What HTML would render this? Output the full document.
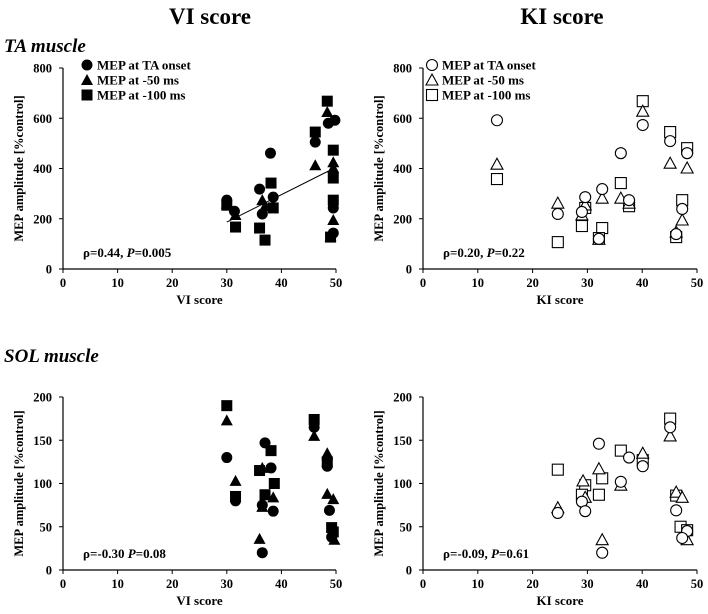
<!DOCTYPE html>
<html><head><meta charset="utf-8"><style>
body{margin:0;background:#fff;width:708px;height:609px;overflow:hidden}
svg text{font-family:"Liberation Serif",serif;font-weight:bold;fill:#000}
</style></head><body>
<svg id="c" width="708" height="609" viewBox="0 0 708 609" xmlns="http://www.w3.org/2000/svg">
<text x="210" y="24" font-size="23" text-anchor="middle">VI score</text>
<text x="562" y="24" font-size="23" text-anchor="middle">KI score</text>
<text x="4" y="52" font-size="19" font-style="italic">TA muscle</text>
<text x="4" y="362" font-size="19" font-style="italic">SOL muscle</text>
</svg>
<script>
// ----- data -----
const taViCircle=[[30,274],[31.4,230],[36,318],[36.5,219],[38,461],[38.5,286],[46.2,505],[48.6,580],[49.8,592],[49.5,243],[49.5,143]];
const taViTri=[[30,260],[31.6,215],[36.5,274],[37,250],[46.2,413],[48.4,625],[49.5,425],[49.5,402],[49.5,195],[49,130]];
const taViSq=[[30,254],[31.6,167],[36,163],[37,115],[38.1,342],[38.5,243],[46.2,545],[48.4,668],[49.5,473],[49.5,362],[49.5,274],[49,127]];
const taKiCircle=[[13.5,592],[24.6,219],[29.6,286],[29,227],[32.7,318],[32.1,120],[36.1,461],[37.6,274],[40.1,573],[45.1,509],[46.2,139],[48.2,461],[47.3,239]];
const taKiTri=[[13.5,417],[24.6,262],[29.6,255],[29,215],[32.7,282],[32.1,118],[36.1,282],[37.6,262],[40.1,628],[45.1,421],[46.2,147],[48.2,402],[47.3,195]];
const taKiSq=[[13.5,358],[24.6,107],[29.6,243],[29,171],[32.7,163],[32.1,123],[36.1,342],[37.6,250],[40.1,668],[45.1,545],[46.2,127],[48.2,481],[47.3,274]];
const solViCircle=[[30,130],[31.6,80],[37,147],[38.1,118],[36.5,75],[38.5,68],[36.5,20],[46,165],[48.4,128],[48.4,120],[48.8,69],[49.2,38]];
const solViTri=[[30,173],[31.6,103],[36.5,118],[38.5,84],[36.5,73],[36,36],[46,155],[48.4,135],[48.4,88],[49.5,82],[49.7,35]];
const solViSq=[[30,190],[31.6,85],[38.1,138],[36,115],[38.7,100],[37,87],[46,174],[48.4,125],[49.2,49],[49.5,44]];
const solKiCircle=[[45.1,165],[32.1,146],[37.6,130],[40.1,120],[36.1,102],[29,79],[29.6,68],[24.6,66],[46.2,69],[48.2,45],[47.3,37],[32.7,20]];
const solKiTri=[[45.1,155],[40.1,135],[32.1,117],[29.2,103],[36.1,98],[29.6,84],[24.6,72],[46.2,90],[47.3,84],[48.2,35],[32.7,35]];
const solKiSq=[[36.1,138],[40.1,127],[24.6,116],[32.7,106],[29.6,98],[32.1,87],[29,87],[46.2,86],[47,50],[48.2,46],[45.1,175]];
const xTicks=[0,10,20,30,40,50];
const taYTicks=[0,200,400,600,800];
const solYTicks=[0,50,100,150,200];
const taFit=[[30,187],[49,394]];
const legendLabels=["MEP at TA onset","MEP at -50 ms","MEP at -100 ms"];

const svg=document.getElementById('c');
const NS="http://www.w3.org/2000/svg";
function mk(tag,attrs,parent){const e=document.createElementNS(NS,tag);for(const k in attrs)e.setAttribute(k,attrs[k]);(parent||svg).appendChild(e);return e;}
function marker(g,type,cx,cy,filled){
  const f=filled?'#000':'#fff',s='#000',sw=filled?0:1.1;let e;
  if(type==='c'){e=mk('circle',{cx:cx,cy:cy,r:5.5,fill:f,stroke:s,'stroke-width':sw},g);}
  else if(type==='t'){e=mk('polygon',{points:`${cx},${cy-6} ${cx-6},${cy+5} ${cx+6},${cy+5}`,fill:f,stroke:s,'stroke-width':sw},g);}
  else{e=mk('rect',{x:cx-5.5,y:cy-5.5,width:11,height:11,fill:f,stroke:s,'stroke-width':sw},g);}
  return e;
}
function panel(o){
  const g=mk('g',{});
  
  
  const sx=v=>o.x0+(v/50)*(o.x1-o.x0);
  const sy=v=>o.y0-(v/o.ymax)*(o.y0-o.y1);
  mk('line',{x1:o.x0,y1:o.y0,x2:o.x0,y2:o.y1,stroke:'#000','stroke-width':1.2},g);
  mk('line',{x1:o.x0,y1:o.y0,x2:o.x1,y2:o.y0,stroke:'#000','stroke-width':1.2},g);
  o.yt.forEach(v=>{mk('line',{x1:o.x0-4,y1:sy(v),x2:o.x0,y2:sy(v),stroke:'#000'},g);
    const t=mk('text',{x:o.x0-11,y:sy(v)+4.5,'font-size':12.5,'text-anchor':'end'},g);t.textContent=v;
    
    });
  xTicks.forEach(v=>{mk('line',{x1:sx(v),y1:o.y0,x2:sx(v),y2:o.y0+4,stroke:'#000'},g);
    const t=mk('text',{x:sx(v),y:o.y0+18,'font-size':12.5,'text-anchor':'middle'},g);t.textContent=v;
    
    });
  const xt=mk('text',{x:(o.x0+o.x1)/2,y:o.y0+35,'font-size':13,'text-anchor':'middle'},g);xt.textContent=o.xtitle;
  
  
  const yc=(o.y0+o.y1)/2, yx=o.x0-40;
  const yt=mk('text',{x:yx,y:yc,'font-size':12.5,'text-anchor':'middle',transform:`rotate(-90 ${yx} ${yc})`},g);yt.textContent='MEP amplitude [%control]';
  
  
  if(o.fit){const l=mk('line',{x1:sx(o.fit[0][0]),y1:sy(o.fit[0][1]),x2:sx(o.fit[1][0]),y2:sy(o.fit[1][1]),stroke:'#000','stroke-width':1},g);
    
    }
  [['s',o.sq],['t',o.tri],['c',o.circ]].forEach(([ty,arr])=>arr.forEach(p=>{
    const m=marker(g,ty,sx(p[0]),sy(p[1]),o.filled);
    
    }));
  const st=mk('text',{x:o.x0+20,y:o.y0-12,'font-size':13},g);
  st.innerHTML=o.stat;
  
  
  if(o.legend){['c','t','s'].forEach((ty,i)=>{const ly=o.y1-3+i*15;
    const m=marker(g,ty,o.x0+o.lx,ly,o.filled);
    
    
    const t=mk('text',{x:o.x0+o.lx+10,y:ly+4.5,'font-size':13},g);t.textContent=legendLabels[i];
    
    });}
}
panel({name:'ta-vi-panel',x0:63,x1:336,y0:269,y1:68,ymax:800,yt:taYTicks,xtitle:'VI score',circ:taViCircle,tri:taViTri,sq:taViSq,filled:true,legend:true,lx:24,fit:taFit,stat:'ρ=0.44, <tspan font-style="italic">P</tspan>=0.005'});
panel({name:'ta-ki-panel',x0:423,x1:697,y0:269,y1:68,ymax:800,yt:taYTicks,xtitle:'KI score',circ:taKiCircle,tri:taKiTri,sq:taKiSq,filled:false,legend:true,lx:9,stat:'ρ=0.20, <tspan font-style="italic">P</tspan>=0.22'});
panel({name:'sol-vi-panel',x0:63,x1:336,y0:570,y1:397,ymax:200,yt:solYTicks,xtitle:'VI score',circ:solViCircle,tri:solViTri,sq:solViSq,filled:true,stat:'ρ=-0.30 <tspan font-style="italic">P</tspan>=0.08'});
panel({name:'sol-ki-panel',x0:423,x1:697,y0:570,y1:397,ymax:200,yt:solYTicks,xtitle:'KI score',circ:solKiCircle,tri:solKiTri,sq:solKiSq,filled:false,stat:'ρ=-0.09, <tspan font-style="italic">P</tspan>=0.61'});
</script>
</body></html>
